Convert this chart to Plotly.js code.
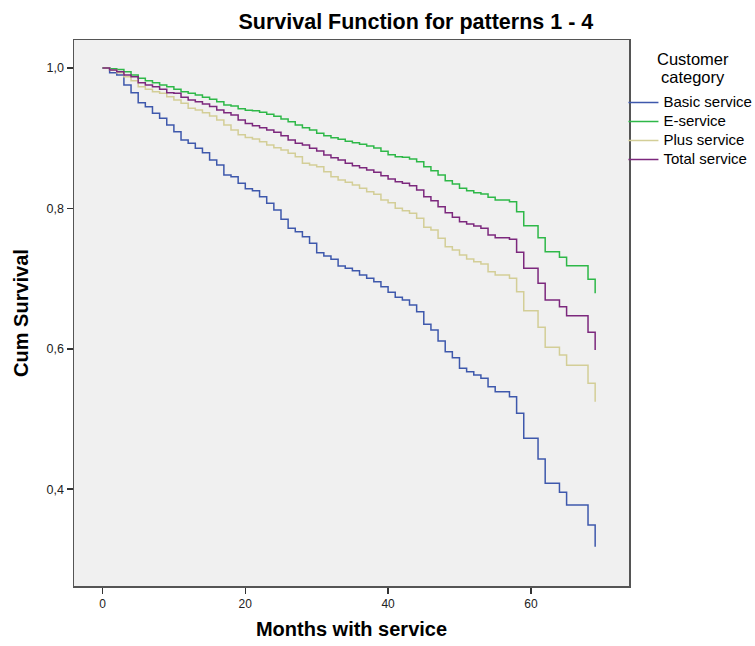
<!DOCTYPE html>
<html>
<head>
<meta charset="utf-8">
<script src="https://cdn.plot.ly/plotly-3.0.1.min.js"></script>
<style>html,body{margin:0;padding:0;background:#fff;}#chart{width:755px;height:646px;}</style>
</head>
<body>
<div id="chart"></div>
<script>
const months = [0,1,2,3,4,5,6,7,8,9,10,11,12,13,14,15,16,17,18,19,20,21,22,23,24,25,26,27,28,29,30,31,32,33,34,35,36,37,38,39,40,41,42,43,44,45,46,47,48,49,50,51,52,53,54,55,56,57,58,59,60,61,62,63,64,65,66,67,68,69];
const basicService = [1.0,0.9934,0.990,0.9758,0.9649,0.9506,0.9449,0.9354,0.9283,0.9188,0.9093,0.8974,0.8927,0.8856,0.8794,0.8689,0.8618,0.8476,0.8450,0.8360,0.8280,0.8253,0.8167,0.8072,0.7977,0.7844,0.7716,0.7668,0.7597,0.7502,0.7369,0.7322,0.7275,0.7180,0.7147,0.7113,0.7051,0.7004,0.6956,0.6885,0.6805,0.6733,0.6695,0.6624,0.6529,0.6349,0.6268,0.6111,0.5959,0.5873,0.5722,0.5674,0.5627,0.5580,0.5460,0.5389,0.5389,0.5318,0.5081,0.4725,0.4725,0.4430,0.4084,0.4084,0.3956,0.3775,0.3775,0.3775,0.3490,0.3181];
const eService = [1.0,0.999,0.998,0.9948,0.990,0.9853,0.982,0.9791,0.9758,0.9734,0.9696,0.9663,0.9639,0.9615,0.9582,0.9554,0.9521,0.9473,0.9459,0.9420,0.9400,0.9390,0.9368,0.9340,0.9312,0.9274,0.9236,0.9188,0.9150,0.9117,0.9070,0.9036,0.9008,0.8984,0.8955,0.8936,0.8913,0.8889,0.8860,0.8815,0.8765,0.8737,0.8727,0.8704,0.8666,0.8594,0.8537,0.8476,0.8395,0.8348,0.8286,0.8253,0.8224,0.8205,0.8158,0.8120,0.8120,0.8096,0.7953,0.7754,0.7754,0.7583,0.7383,0.7383,0.7303,0.7184,0.7184,0.7184,0.6990,0.6790];
const plusService = [1.0,0.9971,0.9934,0.9877,0.982,0.9734,0.9696,0.9663,0.9639,0.9592,0.9544,0.9497,0.9425,0.9402,0.9364,0.9317,0.9259,0.9188,0.9117,0.9050,0.9010,0.8989,0.8950,0.8903,0.8865,0.8832,0.8785,0.8737,0.8642,0.8618,0.8595,0.8523,0.8452,0.8405,0.8371,0.8333,0.8286,0.8238,0.8200,0.8120,0.8080,0.8001,0.7968,0.7930,0.7859,0.7731,0.7692,0.7574,0.7455,0.7407,0.7336,0.7279,0.7241,0.7208,0.7099,0.7051,0.7051,0.7004,0.6814,0.6543,0.6543,0.6306,0.6021,0.6021,0.5912,0.5765,0.5765,0.5765,0.5508,0.5247];
const totalService = [1.0,0.9971,0.9948,0.990,0.9877,0.9791,0.9758,0.9734,0.9696,0.9649,0.9639,0.9582,0.9544,0.9521,0.9487,0.9450,0.9402,0.9364,0.9331,0.9260,0.9210,0.9179,0.9150,0.9117,0.9084,0.9036,0.8974,0.8927,0.8903,0.8856,0.8818,0.8761,0.8723,0.8689,0.8642,0.8609,0.8580,0.8547,0.8514,0.8465,0.8420,0.8380,0.8357,0.8324,0.8262,0.8167,0.8110,0.8025,0.7939,0.7873,0.7811,0.7778,0.7749,0.7716,0.7621,0.7583,0.7583,0.7560,0.7374,0.7146,0.7146,0.6933,0.6695,0.6695,0.6600,0.6472,0.6472,0.6472,0.6235,0.5983];
const seriesNames = ["Basic service","E-service","Plus service","Total service"];
const seriesColors = ["#3E58AC","#2EB848","#D3CE97","#7C287D"];
const seriesValues = [basicService, eService, plusService, totalService];
const xTicks = [0,20,40,60];
const yTicks = [0.4,0.6,0.8,1.0];
const legendTitleLines = ["Customer","category"];

const traces = seriesValues.map((vals, i) => ({
  type: "scatter", mode: "lines", x: months, y: vals,
  name: '<span style="font-size:15px">' + seriesNames[i] + '</span>',
  line: {color: seriesColors[i], width: 1.5, shape: "hv"}, hoverinfo: "skip"
}));

const font = "Liberation Sans, Arial, sans-serif";
const layout = {
  width: 755, height: 646,
  margin: {l: 74, r: 126, t: 40, b: 60, autoexpand: false},
  paper_bgcolor: "#ffffff", plot_bgcolor: "#F0F0F0",
  separators: ", ",
  font: {family: font, size: 12, color: "#000"},
  title: {text: "<b>Survival Function for patterns 1 - 4</b>", font: {family: font, size: 21.5, color: "#000"},
          x: 0.616, xanchor: "center", xref: "paper", y: 0.967, yanchor: "middle"},
  xaxis: {range: [-3.99, 73.74], tickvals: xTicks, ticks: "outside", ticklen: 6, tickwidth: 1.5, tickcolor: "#333",
          showline: true, mirror: true, linecolor: "#555", linewidth: 1.5, showgrid: false, zeroline: false,
          tickfont: {size: 12, color: "#222"},
          title: {text: "<b>Months with service</b>", font: {family: font, size: 20, color: "#000"}, standoff: 12}},
  yaxis: {range: [0.2621, 1.0399], tickvals: yTicks, tickformat: ".1f", ticks: "outside", ticklen: 6, tickwidth: 1.5, tickcolor: "#333",
          showline: true, mirror: true, linecolor: "#555", linewidth: 1.5, showgrid: false, zeroline: false,
          tickfont: {size: 12.5, color: "#222"},
          title: {text: "<b>Cum Survival</b>", font: {family: font, size: 20, color: "#000"}, standoff: 12}},
  legend: {x: 0.99, xanchor: "left", y: 0.912, yanchor: "top", bgcolor: "rgba(0,0,0,0)",
           font: {family: font, size: 12, color: "#000"}, itemwidth: 30, tracegroupgap: 0},
  annotations: legendTitleLines.map((t, i) => ({
    text: t, xref: "paper", yref: "paper", x: 1.1153, y: (586 - (59.5 + 17.5 * i)) / 546,
    xanchor: "center", yanchor: "middle", showarrow: false,
    font: {family: font, size: 16.5, color: "#000"}
  })),
  showlegend: true
};
Plotly.newPlot("chart", traces, layout, {staticPlot: true, displayModeBar: false});
</script>
</body>
</html>
